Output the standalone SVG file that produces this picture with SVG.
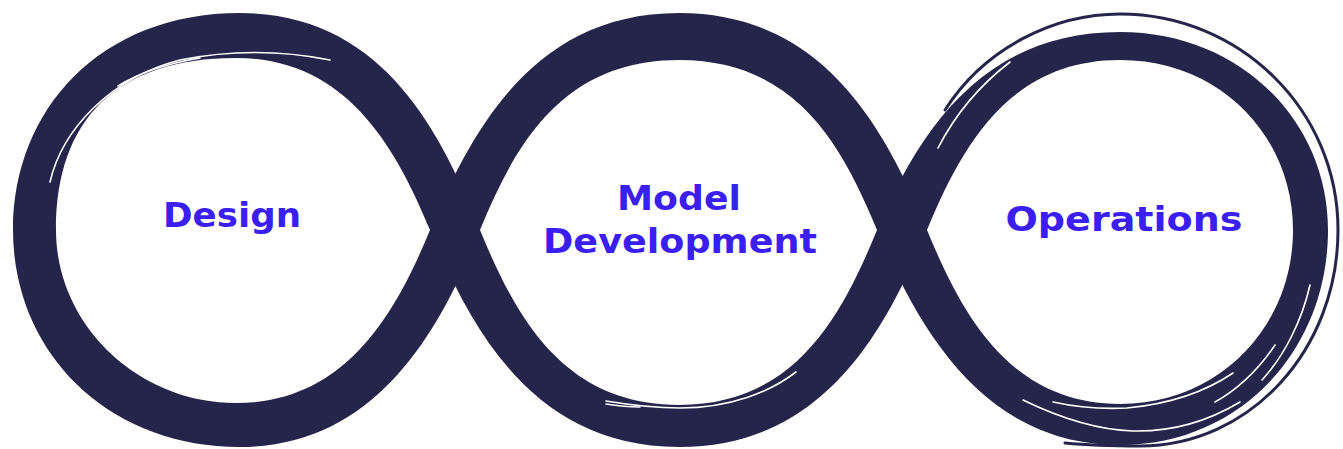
<svg xmlns="http://www.w3.org/2000/svg" width="1343" height="449" viewBox="0 0 1343 449">
  <style>
    .band { fill: #25254b; fill-rule: evenodd; }
    .strand { fill: none; stroke: #25254b; stroke-width: 3; stroke-linecap: round; }
    .scratch { fill: none; stroke: #ffffff; stroke-width: 1.6; stroke-linecap: round; }
    .label { font-family: "DejaVu Sans", "Liberation Sans", sans-serif; font-weight: 700; font-size: 33px; fill: #3b1ef2; text-anchor: middle; }
  </style>
  <rect width="1343" height="449" fill="#ffffff"/>

  <g id="design">
    <path class="band" d="M480,230 C440,128 380,13 240,13 C100,13 13,110 13,230 C13,350 105,447 240,447 C375,447 440,332 480,230 Z
      M430,230 C395,145 345,58 236,58 C116,58 56,120 56,230 C56,325 138,403 236,403 C345,403 395,315 430,230 Z"/>
    <path class="scratch" d="M50,182 C62,130 110,78 180,60 C230,50 280,50 330,60"/>
    <path class="scratch" d="M118,86 C140,72 165,64 200,58"/>
    <text class="label" x="232" y="227" textLength="138" lengthAdjust="spacingAndGlyphs">Design</text>
  </g>

  <g id="model-development">
    <path class="band" d="M430,230 C472,128 535,13 679,13 C823,13 885,128 927,230 C885,332 823,447 679,447 C535,447 472,332 430,230 Z
      M480,230 C515,145 562,60 679,60 C796,60 842,145 877,230 C842,315 796,405 679,405 C562,405 515,315 480,230 Z"/>
    <path class="scratch" d="M606,401 C630,405 655,408 680,408 C730,408 770,392 796,372"/>
    <path class="scratch" d="M606,404 C618,406 628,407 640,407"/>
    <text class="label" x="679" y="210" textLength="124" lengthAdjust="spacingAndGlyphs">Model</text>
    <text class="label" x="680" y="253" textLength="274" lengthAdjust="spacingAndGlyphs">Development</text>
  </g>

  <g id="operations">
    <path class="band" d="M877,230 C920,128 985,32 1120,32 C1240,32 1328,121 1328,230 C1328,350 1240,445 1120,445 C985,445 920,332 877,230 Z
      M927,230 C962,145 1010,60 1120,60 C1220,60 1293,136 1293,230 C1293,326 1220,404 1120,404 C1010,404 962,315 927,230 Z"/>
    <path class="strand" d="M945,110 C985,47 1055,14 1120,14 C1240,14 1338,110 1338,230 C1338,350 1250,446 1140,446 C1110,446 1085,445 1065,443"/>
    <path class="scratch" d="M1023,400 C1060,418 1100,430 1133,431 C1175,432 1210,420 1240,402"/>
    <path class="scratch" d="M1053,402 C1080,408 1105,409 1127,408 C1170,404 1205,392 1233,373"/>
    <path class="scratch" d="M938,148 C955,115 980,85 1010,62"/>
    <path class="scratch" d="M1310,285 C1302,320 1285,355 1262,380"/>
    <path class="scratch" d="M1275,345 C1258,370 1240,388 1215,402"/>
    <text class="label" x="1124" y="231" textLength="237" lengthAdjust="spacingAndGlyphs">Operations</text>
  </g>

  <g id="connectors"></g>
</svg>
